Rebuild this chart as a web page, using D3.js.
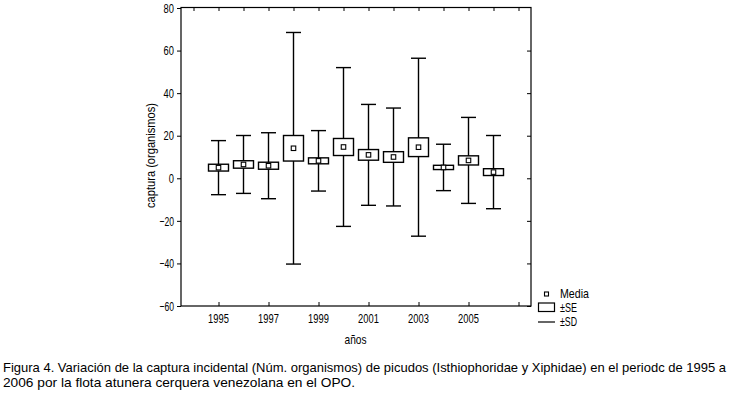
<!DOCTYPE html>
<html><head><meta charset="utf-8">
<script src="https://cdn.jsdelivr.net/npm/d3@7"></script>
<style>body{margin:0;background:#fff}svg{display:block}text{font-family:"Liberation Sans",Arial,sans-serif;fill:#000}</style>
</head><body><svg id="c" width="729" height="394"></svg>
<script>
const years = [1995,1996,1997,1998,1999,2000,2001,2002,2003,2004,2005,2006];
const means = [5.0, 6.5, 5.9, 14.1, 8.2, 14.7, 11.0, 10.0, 14.6, 5.1, 8.4, 2.9];
const se    = [1.6, 1.75, 1.65, 6.0, 1.4, 4.0, 2.5, 2.5, 4.4, 1.0, 2.15, 1.6];
const sd    = [12.7, 13.6, 15.5, 54.4, 14.2, 37.3, 23.7, 23.0, 41.8, 10.9, 20.2, 17.2];
const yTicks = [80,60,40,20,0,-20,-40,-60];
const xTickLabels = [1995,1997,1999,2001,2003,2005];
const caption1 = "Figura 4. Variación de la captura incidental (Núm. organismos) de picudos (Isthiophoridae y Xiphidae) en el periodc de 1995 a";
const caption2 = "2006 por la flota atunera cerquera venezolana en el OPO.";

const svg = d3.select("#c");
const L=181,R=531,T=8,B=306;
const x = d3.scaleLinear().domain([1993.5,2007.5]).range([L,R]);
const y = d3.scaleLinear().domain([-60,80]).range([B,T]);

const lw = s => { s=String(s); let w=0; for(const ch of s){ w += ch==="-"?4.2:5.2; } return w; };

svg.append("rect").attr("x",L).attr("y",T-0.5).attr("width",R-L).attr("height",B-T+0.5)
  .attr("fill","none").attr("stroke","#000").attr("stroke-width",1.2);

const ya = d3.axisLeft(y).tickValues(yTicks).tickSize(4).tickPadding(3);
const gy = svg.append("g").attr("transform",`translate(${L},0)`).call(ya);
gy.select(".domain").remove();
gy.selectAll("text").style("font-size","13px").style("font-family",'"Liberation Sans",sans-serif')
  .attr("textLength",d=>lw(d)).attr("lengthAdjust","spacingAndGlyphs");
const yr = d3.axisLeft(y).tickValues(yTicks.slice(1)).tickSize(4).tickFormat("");
const gyr = svg.append("g").attr("transform",`translate(${R},0)`).call(yr);
gyr.select(".domain").remove();
const xa = d3.axisTop(x).tickValues([...xTickLabels,2007]).tickSize(4).tickFormat("");
const gx = svg.append("g").attr("transform",`translate(0,${B})`).call(xa);
gx.select(".domain").remove();
svg.append("g").selectAll("text").data(xTickLabels).join("text")
  .attr("x",d=>x(d)-lw(d)/2).attr("y",323).style("font-size","13px")
  .attr("textLength",d=>lw(d)).attr("lengthAdjust","spacingAndGlyphs").text(d=>d);
const xt = d3.axisBottom(x).tickValues(d3.range(1994,2008)).tickSize(3).tickFormat("");
const gxt = svg.append("g").attr("transform",`translate(0,${T})`).call(xt);
gxt.select(".domain").remove();

svg.append("text").attr("x",344.5).attr("y",344).style("font-size","13px")
  .attr("textLength",22).attr("lengthAdjust","spacingAndGlyphs").text("años");
svg.append("text").attr("transform",`translate(155,208) rotate(-90)`).style("font-size","13px")
  .attr("textLength",105).attr("lengthAdjust","spacingAndGlyphs").text("captura (organismos)");

const bw=20, cw=15, ms=4.5;
const g = svg.append("g").attr("stroke","#000").attr("fill","none").attr("stroke-width",1.4);
years.forEach((yr,i)=>{
  const cx = x(yr);
  const m=means[i], s=se[i], d=sd[i];
  g.append("line").attr("x1",cx).attr("x2",cx).attr("y1",y(m+d)).attr("y2",y(m+s));
  g.append("line").attr("x1",cx).attr("x2",cx).attr("y1",y(m-s)).attr("y2",y(m-d));
  g.append("line").attr("x1",cx-cw/2).attr("x2",cx+cw/2).attr("y1",y(m+d)).attr("y2",y(m+d));
  g.append("line").attr("x1",cx-cw/2).attr("x2",cx+cw/2).attr("y1",y(m-d)).attr("y2",y(m-d));
  g.append("rect").attr("x",cx-bw/2).attr("y",y(m+s)).attr("width",bw).attr("height",y(m-s)-y(m+s));
  g.append("rect").attr("x",cx-ms/2).attr("y",y(m)-ms/2).attr("width",ms).attr("height",ms).attr("stroke-width",1.1).attr("fill","#fff");
});

const lg = svg.append("g");
lg.append("rect").attr("x",544.5).attr("y",292).attr("width",4).attr("height",4).attr("fill","none").attr("stroke","#000").attr("stroke-width",1.1);
lg.append("rect").attr("x",538.5).attr("y",303).attr("width",16).attr("height",8.5).attr("fill","none").attr("stroke","#000").attr("stroke-width",1.2);
lg.append("line").attr("x1",538).attr("x2",555).attr("y1",322).attr("y2",322).attr("stroke","#000").attr("stroke-width",1.2);
lg.append("text").attr("x",560).attr("y",298).style("font-size","13px").attr("textLength",29).attr("lengthAdjust","spacingAndGlyphs").text("Media");
lg.append("text").attr("x",560).attr("y",312).style("font-size","13px").attr("textLength",17).attr("lengthAdjust","spacingAndGlyphs").text("±SE");
lg.append("text").attr("x",560).attr("y",326).style("font-size","13px").attr("textLength",17).attr("lengthAdjust","spacingAndGlyphs").text("±SD");

svg.append("text").attr("x",3).attr("y",372).style("font-size","13px").attr("textLength",723).attr("lengthAdjust","spacingAndGlyphs").text(caption1);
svg.append("text").attr("x",3).attr("y",387).style("font-size","13px").attr("textLength",352).attr("lengthAdjust","spacingAndGlyphs").text(caption2);
</script></body></html>
